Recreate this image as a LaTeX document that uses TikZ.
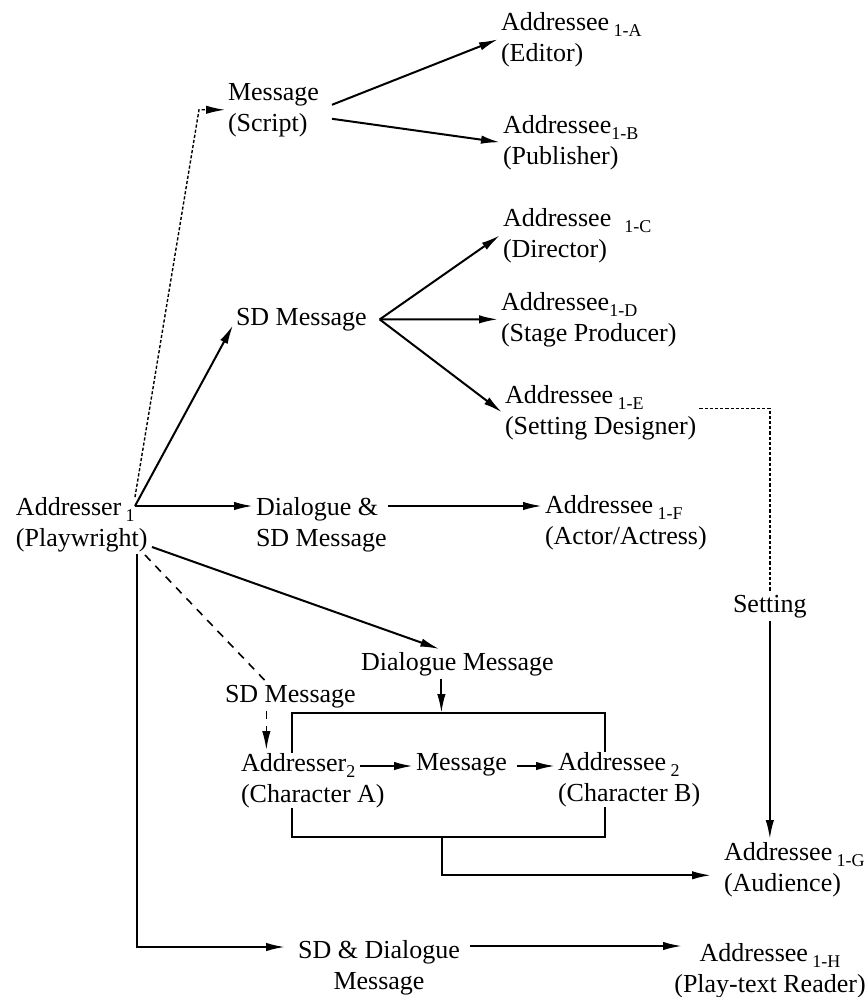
\documentclass[tikz,border=0pt]{standalone}
\usepackage{fontspec}
\setmainfont{Liberation Serif}
\usetikzlibrary{arrows.meta,calc}
\newcommand\lsub[1]{\raisebox{-0.55ex}{\fontsize{9}{9}\selectfont #1}}
\begin{document}
\begin{tikzpicture}[x=0.5pt,y=-0.5pt,
  lbl/.style={inner sep=0pt, outer sep=1.5pt, font=\fontsize{13}{15.5}\selectfont, align=left, anchor=north west},
  arr/.style={-{Latex[length=9.5pt,width=4.2pt]}, line width=1pt},
  dotln/.style={line width=0.7pt, dash pattern=on 1.6pt off 1pt},
  dashln/.style={line width=0.8pt, dash pattern=on 4pt off 3.5pt},
  boxst/.style={draw, line width=1pt, minimum width=156.5pt, minimum height=62pt, inner sep=0pt, outer sep=0pt}
]
\useasboundingbox (0,0) rectangle (868,997);

% nodes
\node[lbl] (pw) at (13,494) {Addresser\,\lsub{1}\\(Playwright)};
\node[lbl] (msg) at (225,80) {Message\\(Script)};
\node[lbl] (a) at (498,9) {Addressee\,\lsub{1-A}\\(Editor)};
\node[lbl] (b) at (500,112) {Addressee\lsub{1-B}\\(Publisher)};
\node[lbl] (c) at (500,205) {Addressee\enspace\lsub{1-C}\\(Director)};
\node[lbl] (d) at (498,289) {Addressee\lsub{1-D}\\(Stage Producer)};
\node[lbl] (e) at (502,382) {Addressee\,\lsub{1-E}\\(Setting Designer)};
\node[lbl] (sdm) at (233,305) {SD Message};
\node[lbl] (dsd) at (253,494) {Dialogue \&\\SD Message};
\node[lbl] (f) at (542,492) {Addressee\,\lsub{1-F}\\(Actor/Actress)};
\node[lbl] (setting) at (730,592) {Setting};
\node[lbl] (dm) at (358,649) {Dialogue Message};
\node[lbl] (sdm2) at (222,682) {SD Message};
\node[boxst] (box) at (448.5,775) {};
\node[lbl, fill=white] (a2) at (238,750) {Addresser\lsub{2}\\(Character A)};
\node[lbl] (m2) at (413,750) {Message};
\node[lbl, fill=white] (b2) at (555,749) {Addressee\,\lsub{2}\\(Character B)};
\node[lbl] (g) at (721,839) {Addressee\,\lsub{1-G}\\(Audience)};
\node[lbl, align=center, anchor=north] (sdd) at (379,937) {SD \& Dialogue\\Message};
\node[lbl, align=center, anchor=north] (h) at (770,940) {Addressee\,\lsub{1-H}\\(Play-text Reader)};

% junction coordinates
\coordinate (hub) at (135,506);
\coordinate (hubDot) at (135,497);
\coordinate (pwSE) at (152,547);
\coordinate (pwDash) at (145,555);
\coordinate (pwV) at (137,554);
\coordinate (msgR1) at ([xshift=5pt,yshift=2.5pt]msg.east);
\coordinate (msgR2) at ([xshift=5pt,yshift=-4.5pt]msg.east);
\coordinate (msgC) at ([xshift=-13pt]msg.west);
\coordinate (fan) at ([xshift=5pt]sdm.east);
\coordinate (dsdR) at (388,506);
\coordinate (dmB) at ([xshift=-8pt]dm.south);
\coordinate (sdm2B) at ([xshift=-12pt]sdm2.south);
\coordinate (a2R) at (360,766);
\coordinate (m2Rt) at (a2R -| m2.east);
\coordinate (m2R) at ([xshift=3.5pt]m2Rt);
\coordinate (sddOut) at (470,946);
\coordinate (hIn) at (682,946);

% connectors
\draw[arr, dotln] (hubDot) -- (msgC) -- (msg.west);
\draw[arr] (msgR1) -- (a.west);
\draw[arr] (msgR2) -- (b.west);
\draw[arr] (hub) -- (sdm.base west);
\draw[arr] (fan) -- (c.west);
\draw[arr] (fan) -- (d.west);
\draw[arr] (fan) -- (e.west);
\draw[arr] (hub) -- (hub -| dsd.west);
\draw[arr] (dsdR) -- (dsdR -| f.west);
\draw[dotln] ([yshift=2pt]e.east) -| (setting.north);
\draw[arr] (setting.south) -- (setting.south |- g.north);
\draw[arr] (pwSE) -- ([xshift=-9pt]dm.north);
\draw[arr] (dmB) -- (dmB |- box.north);
\draw[dashln] (pwDash) -- ([xshift=-12pt]sdm2.north);
\draw[arr, dashln] (sdm2B) -- (sdm2B |- a2.north);
\draw[arr] (a2R) -- (a2R -| m2.west);
\draw[arr] (m2R) -- (m2R -| b2.west);
\draw[arr] ([xshift=-3.25pt]box.south) |- ([xshift=-5pt,yshift=-3pt]g.west);
\draw[arr] (pwV) |- ([xshift=-5pt,yshift=-5pt]sdd.north west);
\draw[arr] (sddOut) -- (hIn);
\end{tikzpicture}
\end{document}
